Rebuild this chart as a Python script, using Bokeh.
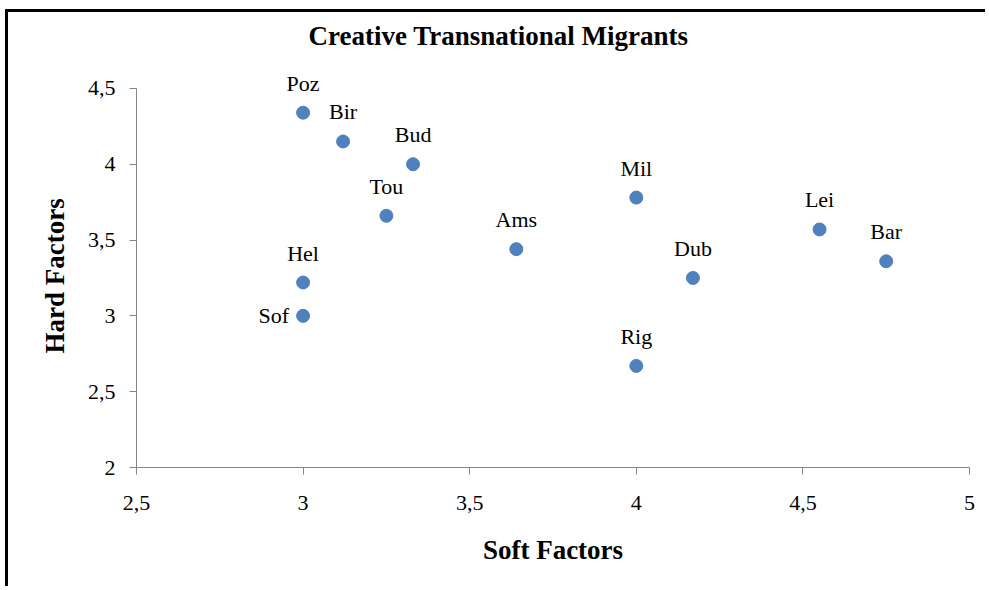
from bokeh.plotting import figure
from bokeh.models import ColumnDataSource, FixedTicker, CustomJSTickFormatter, Range1d, LabelSet, Title
from bokeh.embed import file_html
from bokeh.resources import INLINE

# Data
cities = ["Poz", "Bir", "Bud", "Tou", "Hel", "Sof", "Ams", "Mil", "Rig", "Dub", "Lei", "Bar"]
soft_factors = [3.00, 3.12, 3.33, 3.25, 3.00, 3.00, 3.64, 4.00, 4.00, 4.17, 4.55, 4.75]
hard_factors = [4.34, 4.15, 4.00, 3.66, 3.22, 3.00, 3.44, 3.78, 2.67, 3.25, 3.57, 3.36]
label_side = ["above", "above", "above", "above", "above", "left",
              "above", "above", "above", "above", "above", "above"]

x_ticks = [2.5, 3.0, 3.5, 4.0, 4.5, 5.0]
y_ticks = [2.0, 2.5, 3.0, 3.5, 4.0, 4.5]
y_headroom = 4.75  # empty space above the y axis so that top labels are not clipped

FONT = "'Liberation Serif', 'Times New Roman', 'DejaVu Serif', serif"
DOT = "#4F81BD"
AXIS = "#868686"

p = figure(width=980, height=577, output_backend="svg", toolbar_location=None,
           x_range=Range1d(x_ticks[0], x_ticks[-1]), y_range=Range1d(y_ticks[0], y_headroom),
           min_border_left=128, min_border_right=19, min_border_top=38, min_border_bottom=122,
           title="Creative Transnational Migrants")
p.styles = {"border-left": "3px solid black", "border-top": "3px solid black",
            "margin-left": "5px", "margin-top": "9px"}

p.title.text_font = FONT
p.title.text_font_size = "27px"
p.title.text_font_style = "bold"
p.title.text_color = "black"
p.title.align = "left"
p.title.offset = 172
p.title.standoff = 0

p.outline_line_color = None
p.xgrid.visible = False
p.ygrid.visible = False
p.background_fill_color = "white"
p.border_fill_color = "white"

fmt = CustomJSTickFormatter(code="return tick.toString().replace('.', ',');")
for ax, ticks in ((p.xaxis[0], x_ticks), (p.yaxis[0], y_ticks)):
    ax.ticker = FixedTicker(ticks=ticks)
    ax.bounds = (ticks[0], ticks[-1])
    ax.formatter = fmt
    ax.axis_line_color = AXIS
    ax.major_tick_line_color = AXIS
    ax.major_tick_out = 7
    ax.major_tick_in = 0
    ax.minor_tick_line_color = None
    ax.major_label_text_font = FONT
    ax.major_label_text_font_size = "22px"
    ax.major_label_text_color = "black"
    ax.axis_label_text_font = FONT
    ax.axis_label_text_font_size = "27px"
    ax.axis_label_text_font_style = "bold"
    ax.axis_label_text_color = "black"

p.xaxis.axis_label = "Soft Factors"
p.xaxis.major_label_standoff = 21
p.yaxis.major_label_standoff = 14
p.xaxis.axis_label_standoff = 22

# y axis title, centred on the 2..4.5 axis (not on the padded frame)
ytitle = Title(text="Hard Factors", align="left", offset=114, vertical_align="bottom",
               standoff=30, text_font=FONT, text_font_size="27px", text_font_style="bold",
               text_color="black")
p.add_layout(ytitle, "left")

src = ColumnDataSource(dict(x=soft_factors, y=hard_factors, name=cities))
p.scatter("x", "y", source=src, size=13, fill_color=DOT, line_color=DOT)

above = [i for i, s in enumerate(label_side) if s == "above"]
left = [i for i, s in enumerate(label_side) if s == "left"]
src_above = ColumnDataSource(dict(x=[soft_factors[i] for i in above],
                                  y=[hard_factors[i] for i in above],
                                  name=[cities[i] for i in above]))
src_left = ColumnDataSource(dict(x=[soft_factors[i] for i in left],
                                 y=[hard_factors[i] for i in left],
                                 name=[cities[i] for i in left]))
p.add_layout(LabelSet(x="x", y="y", text="name", source=src_above, text_font=FONT,
                      text_font_size="22px", text_color="black", text_align="center",
                      text_baseline="alphabetic", y_offset=22))
p.add_layout(LabelSet(x="x", y="y", text="name", source=src_left, text_font=FONT,
                      text_font_size="22px", text_color="black", text_align="right",
                      text_baseline="middle", x_offset=-14, y_offset=0))

open("out.html", "w").write(file_html(p, INLINE))
